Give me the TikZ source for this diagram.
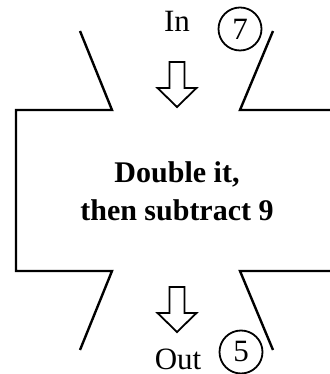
\documentclass[tikz,border=0pt]{standalone}
\usepackage{fontspec}
\setmainfont{Liberation Serif}
\usetikzlibrary{positioning}

\begin{document}
\begin{tikzpicture}[x=0.5pt, y=0.5pt,
        outline/.style={line width=1.2pt, line join=miter},
        iolabel/.style={font=\fontsize{15.5}{18}\selectfont, inner sep=0pt},
        numcircle/.style={circle, draw, line width=0.9pt, minimum size=21.5pt, inner sep=0pt, font=\fontsize{15.5}{18}\selectfont},
        rulebox/.style={font=\fontsize{15}{19}\selectfont\bfseries, align=center},
        hollow arrow/.pic={
            \draw[line width=0.9pt, line join=miter] (-7.5,0) -- (7.5,0) -- (7.5,-26) -- (19.5,-26)
                -- (0,-45) -- (-19.5,-26) -- (-7.5,-26) -- cycle;
        }
    ]
        \useasboundingbox (0,0) rectangle (330,374);
        
        % Machine outline
        \draw[outline] (80,343) -- (112,264) -- (16,264) -- (16,103) -- (112,103) -- (80,24);
        \draw[outline] (273,343) -- (240,264) -- (332,264);
        \draw[outline] (273,24) -- (240,103) -- (332,103);
        
        % Arrows
        \pic at (177,312) {hollow arrow};
        \pic at (177,87) {hollow arrow};
        
        % Input and output
        \node[iolabel, anchor=base] (in) at (177,342) {In};
        \node[numcircle] (inval) at (240,345) {7};
        \node[iolabel, anchor=base] (out) at (178,4) {Out};
        \node[numcircle] (outval) at (241,22) {5};
        
        % Rule
        \node[rulebox] (rule) at (177,183) {Double it,\\then subtract 9};
        
    \end{tikzpicture}
\end{document}
